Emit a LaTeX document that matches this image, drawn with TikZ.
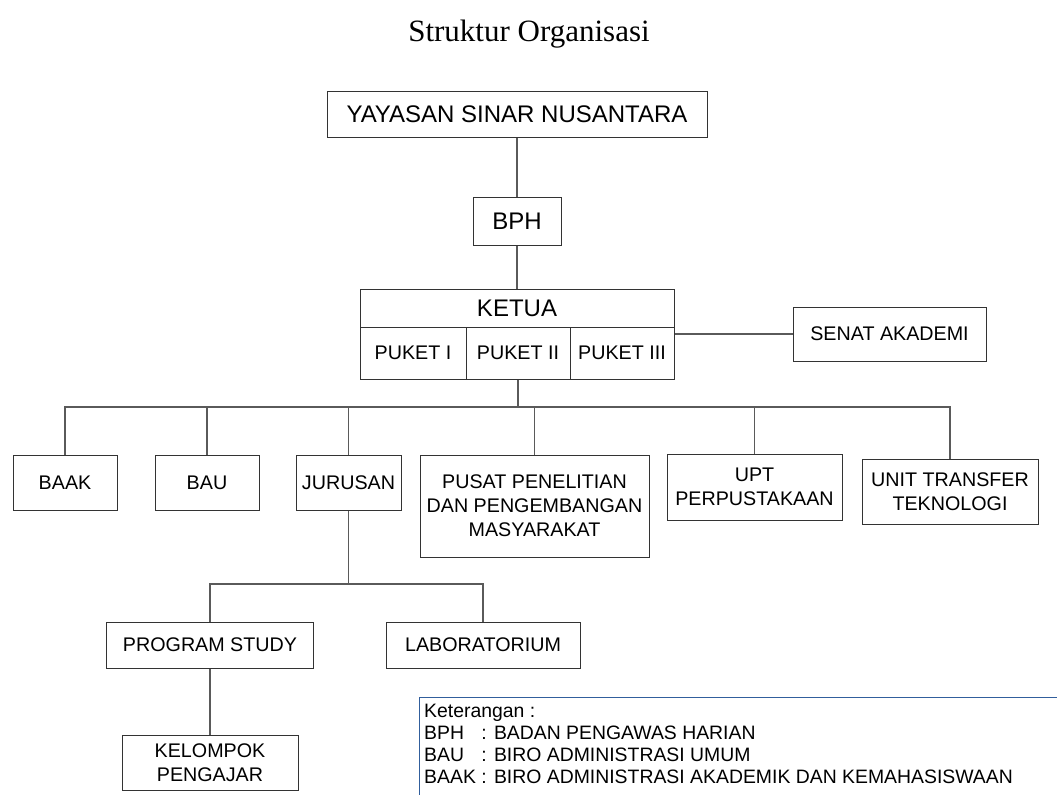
\documentclass[tikz,border=0pt]{standalone}
\usepackage{fontspec}
\setmainfont{Liberation Sans}
\newfontfamily\titlefont{Liberation Serif}
\definecolor{cLine}{RGB}{90,90,90}
\definecolor{cNote}{RGB}{49,94,156}
\tikzset{
    unitbox/.style={rectangle, draw=black!80, line width=1pt, inner sep=0pt, text centered, align=center, font=\fontsize{19.7}{24}\selectfont},
    topbox/.style ={unitbox, font=\fontsize{24}{27}\selectfont},
    link/.style   ={draw=cLine, line width=1.1pt},
    notebar/.style={draw=cNote, line width=1pt},
}
\newcommand{\ketrow}[2]{\makebox[2.95em][l]{#1}: #2}

\begin{document}
\begin{tikzpicture}[x=1pt, y=-1pt]
    \useasboundingbox (0,0) rectangle (1057,795);
    \node[anchor=base, font=\titlefont\fontsize{31}{36}\selectfont] (title) at (529,41) {Struktur Organisasi};
    % top of the chart
    \node[topbox, minimum width=380pt, minimum height=46pt] (yay) at (517,114) {YAYASAN SINAR NUSANTARA};
    \node[topbox, minimum width=88pt, minimum height=48pt] (bph) at (517,221) {BPH};
    \node[topbox, minimum width=314pt, minimum height=38pt] (ketua) at (517,308) {KETUA};
    \node[unitbox, minimum width=106pt, minimum height=52pt] (puket1) at (413,353) {PUKET I};
    \node[unitbox, minimum width=104pt, minimum height=52pt] (puket2) at (518,353) {PUKET II};
    \node[unitbox, minimum width=104pt, minimum height=52pt] (puket3) at (622,353) {PUKET III};
    \node[unitbox, minimum width=193pt, minimum height=54pt] (senat) at (889.5,334) {SENAT AKADEMI};
    % units under the ketua
    \node[unitbox, minimum width=104pt, minimum height=55pt] (baak) at (65,482.5) {BAAK};
    \node[unitbox, minimum width=104pt, minimum height=55pt] (bau) at (207,482.5) {BAU};
    \node[unitbox, minimum width=105pt, minimum height=55pt] (jur) at (348.5,482.5) {JURUSAN};
    \node[unitbox, minimum width=229pt, minimum height=102pt] (pusat) at (534.5,506) {PUSAT PENELITIAN\\DAN PENGEMBANGAN\\MASYARAKAT};
    \node[unitbox, minimum width=175pt, minimum height=66pt] (upt) at (754.5,487) {UPT\\PERPUSTAKAAN};
    \node[unitbox, minimum width=176pt, minimum height=65pt] (unit) at (950,491.5) {UNIT TRANSFER\\TEKNOLOGI};
    % jurusan branch
    \node[unitbox, minimum width=207pt, minimum height=46pt] (prog) at (210,645) {PROGRAM STUDY};
    \node[unitbox, minimum width=194pt, minimum height=46pt] (lab) at (483,645) {LABORATORIUM};
    \node[unitbox, minimum width=176pt, minimum height=55pt] (kel) at (210,762.5) {KELOMPOK\\PENGAJAR};

    \draw[link] (yay) -- (bph);
    \draw[link] (bph) -- (ketua);
    \draw[link] (senat.west) -- (senat.west -| puket3.east);
    \coordinate (bus) at (518,407);
    \draw[link] (puket2.south) -- (bus);
    \draw[link] (baak.north) |- (bus) -| (unit.north);
    \foreach \n in {bau, jur, pusat, upt}
        \draw[link] (\n.north) -- (\n.north |- bus);
    \coordinate (jbus) at (348.5,584);
    \draw[link] (jur.south) -- (jbus);
    \draw[link] (prog.north) |- (jbus) -| (lab.north);
    \draw[link] (prog) -- (kel);

    % keterangan
    \draw[notebar] (1057,697) -| (419,795);
    \node[anchor=north west, align=left, inner sep=0pt, font=\fontsize{19.4}{22}\selectfont] (note) at (424,704)
        {Keterangan :\\
         \ketrow{BPH}{BADAN PENGAWAS HARIAN}\\
         \ketrow{BAU}{BIRO ADMINISTRASI UMUM}\\
         \ketrow{BAAK}{BIRO ADMINISTRASI AKADEMIK DAN KEMAHASISWAAN}};
\end{tikzpicture}
\end{document}
